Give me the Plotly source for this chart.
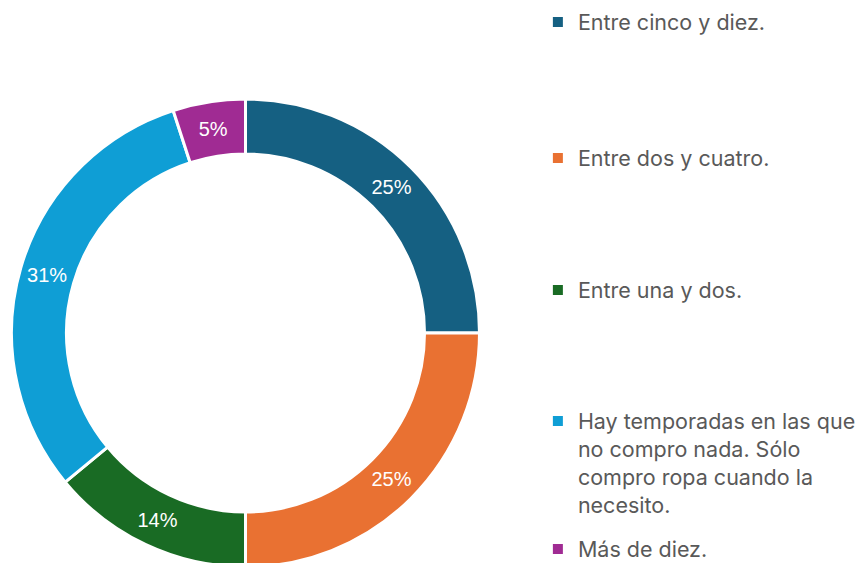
import plotly.graph_objects as go

labels = ["Entre cinco y diez.", "Entre dos y cuatro.", "Entre una y dos.",
          "Hay temporadas en las que<br>no compro nada. Sólo<br>compro ropa cuando la<br>necesito.",
          "Más de diez."]
values = [25, 25, 14, 31, 5]
colors = ["#156082", "#E97132", "#196B24", "#0F9ED5", "#A02B93"]
legend_tops = [1.0115, 0.770, 0.5355, 0.3028, 0.0755]

fig = go.Figure()
fig.add_trace(go.Pie(
    labels=labels, values=values, sort=False, direction="clockwise", rotation=0,
    hole=0.765, marker=dict(colors=colors, line=dict(color="white", width=3)),
    textinfo="percent", textposition="inside", insidetextorientation="horizontal",
    textfont=dict(family="Liberation Sans, Arial", size=20, color="white"),
    domain=dict(x=[3.5/863, 471.5/863], y=[4/563, 472/563]),
    showlegend=False, hoverinfo="label+percent",
))

for i, (lab, col) in enumerate(zip(labels, colors)):
    lname = "legend" if i == 0 else f"legend{i+1}"
    fig.add_trace(go.Scatter(
        x=[None], y=[None], mode="markers", name=lab,
        marker=dict(symbol="square", size=10, color=col),
        legend=lname, showlegend=True, hoverinfo="skip",
    ))
    fig.update_layout({lname: dict(
        x=0.614, y=legend_tops[i], xanchor="left", yanchor="top",
        bgcolor="rgba(0,0,0,0)", valign="top", itemwidth=30,
        font=dict(family="Inter, Open Sans, sans-serif", size=21.5, color="#595959"),
    )})

fig.update_layout(
    width=863, height=563, margin=dict(l=0, r=0, t=0, b=0, autoexpand=False),
    paper_bgcolor="white", plot_bgcolor="white",
    xaxis=dict(visible=False), yaxis=dict(visible=False),
)
fig.write_html("out.html")
